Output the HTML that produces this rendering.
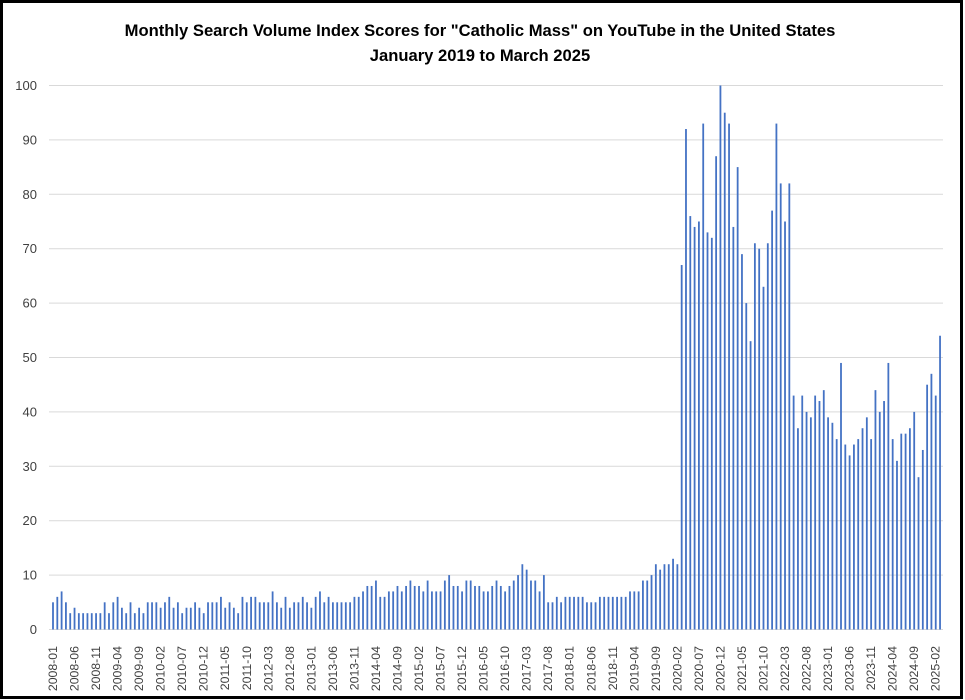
<!DOCTYPE html>
<html><head><meta charset="utf-8"><style>
html,body{margin:0;padding:0;background:#fff}
svg{display:block}
text{font-family:"Liberation Sans",Arial,sans-serif}
</style></head><body>
<svg id="s" width="965" height="700" viewBox="0 0 965 700" xmlns="http://www.w3.org/2000/svg">
<rect x="1.5" y="1.5" width="960" height="696" fill="#fff" stroke="#000" stroke-width="3"/>
<text x="480" y="36" text-anchor="middle" font-weight="bold" font-size="16.6">Monthly Search Volume Index Scores for "Catholic Mass" on YouTube in the United States</text>
<text x="480" y="61" text-anchor="middle" font-weight="bold" font-size="16.6">January 2019 to March 2025</text>
<g id="grid" stroke="#d9d9d9" stroke-width="1"></g>
<g font-size="13" fill="#404040" text-anchor="end">
<text x="37" y="634">0</text><text x="37" y="579.6">10</text><text x="37" y="525.2">20</text><text x="37" y="470.8">30</text><text x="37" y="416.4">40</text><text x="37" y="362">50</text><text x="37" y="307.6">60</text><text x="37" y="253.2">70</text><text x="37" y="198.8">80</text><text x="37" y="144.4">90</text><text x="37" y="90">100</text>
</g>
<g id="bars" fill="#4472c4"></g>
<g font-size="12.3" fill="#404040" text-anchor="end">
<text transform="translate(57.0,646) rotate(-90)">2008-01</text>
<text transform="translate(78.5,646) rotate(-90)">2008-06</text>
<text transform="translate(100.1,646) rotate(-90)">2008-11</text>
<text transform="translate(121.6,646) rotate(-90)">2009-04</text>
<text transform="translate(143.1,646) rotate(-90)">2009-09</text>
<text transform="translate(164.7,646) rotate(-90)">2010-02</text>
<text transform="translate(186.2,646) rotate(-90)">2010-07</text>
<text transform="translate(207.7,646) rotate(-90)">2010-12</text>
<text transform="translate(229.2,646) rotate(-90)">2011-05</text>
<text transform="translate(250.8,646) rotate(-90)">2011-10</text>
<text transform="translate(272.3,646) rotate(-90)">2012-03</text>
<text transform="translate(293.8,646) rotate(-90)">2012-08</text>
<text transform="translate(315.4,646) rotate(-90)">2013-01</text>
<text transform="translate(336.9,646) rotate(-90)">2013-06</text>
<text transform="translate(358.4,646) rotate(-90)">2013-11</text>
<text transform="translate(380.0,646) rotate(-90)">2014-04</text>
<text transform="translate(401.5,646) rotate(-90)">2014-09</text>
<text transform="translate(423.0,646) rotate(-90)">2015-02</text>
<text transform="translate(444.5,646) rotate(-90)">2015-07</text>
<text transform="translate(466.1,646) rotate(-90)">2015-12</text>
<text transform="translate(487.6,646) rotate(-90)">2016-05</text>
<text transform="translate(509.1,646) rotate(-90)">2016-10</text>
<text transform="translate(530.7,646) rotate(-90)">2017-03</text>
<text transform="translate(552.2,646) rotate(-90)">2017-08</text>
<text transform="translate(573.7,646) rotate(-90)">2018-01</text>
<text transform="translate(595.3,646) rotate(-90)">2018-06</text>
<text transform="translate(616.8,646) rotate(-90)">2018-11</text>
<text transform="translate(638.3,646) rotate(-90)">2019-04</text>
<text transform="translate(659.8,646) rotate(-90)">2019-09</text>
<text transform="translate(681.4,646) rotate(-90)">2020-02</text>
<text transform="translate(702.9,646) rotate(-90)">2020-07</text>
<text transform="translate(724.4,646) rotate(-90)">2020-12</text>
<text transform="translate(746.0,646) rotate(-90)">2021-05</text>
<text transform="translate(767.5,646) rotate(-90)">2021-10</text>
<text transform="translate(789.0,646) rotate(-90)">2022-03</text>
<text transform="translate(810.6,646) rotate(-90)">2022-08</text>
<text transform="translate(832.1,646) rotate(-90)">2023-01</text>
<text transform="translate(853.6,646) rotate(-90)">2023-06</text>
<text transform="translate(875.1,646) rotate(-90)">2023-11</text>
<text transform="translate(896.7,646) rotate(-90)">2024-04</text>
<text transform="translate(918.2,646) rotate(-90)">2024-09</text>
<text transform="translate(939.7,646) rotate(-90)">2025-02</text>
</g>
</svg>
<script>
var v=[5,6,7,5,3,4,3,3,3,3,3,3,
5,3,5,6,4,3,5,3,4,3,5,5,5,4,5,6,4,5,3,4,4,5,4,3,5,5,5,6,4,5,4,3,6,5,6,6,5,5,5,7,
5,4,6,4,5,5,6,5,4,6,7,5,6,5,5,5,5,5,6,6,7,8,8,9,6,6,7,7,8,7,8,9,8,8,7,9,7,7,7,9,10,8,8,7,9,9,8,8,7,7,8,
9,8,7,8,9,10,12,11,9,9,7,10,5,5,6,5,6,6,6,6,6,5,5,5,6,6,6,6,6,6,6,7,7,7,9,9,10,12,11,12,12,13,12,
67,92,76,74,75,93,73,72,87,100,95,93,74,85,69,60,53,71,70,63,71,77,93,82,75,82,
43,37,43,40,39,43,42,44,39,38,35,49,34,32,34,35,37,39,35,44,40,42,49,35,31,36,36,37,40,28,33,45,47,43,54];
var NS="http://www.w3.org/2000/svg",g=document.getElementById('grid'),b=document.getElementById('bars');
for(var i=0;i<=10;i++){var y=629-i*54.4,l=document.createElementNS(NS,'line');l.setAttribute('x1',49);l.setAttribute('x2',943);l.setAttribute('y1',y+0.5);l.setAttribute('y2',y+0.5);g.appendChild(l);}
for(var i=0;i<v.length;i++){var x=53+i*4.306,h=v[i]*5.44,r=document.createElementNS(NS,'rect');r.setAttribute('x',(x-0.9).toFixed(2));r.setAttribute('y',(629.5-h).toFixed(2));r.setAttribute('width',1.8);r.setAttribute('height',h.toFixed(2));b.appendChild(r);}
</script>
</body></html>
